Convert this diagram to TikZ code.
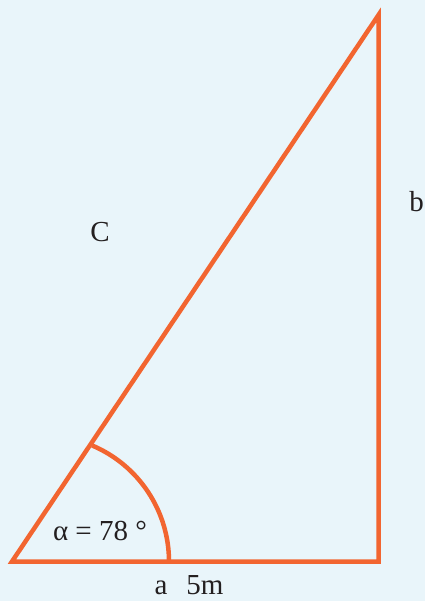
\documentclass[tikz,border=0pt]{standalone}
\usepackage{fontspec}
\setmainfont{Liberation Serif}
\definecolor{bgblue}{HTML}{E9F5FA}
\definecolor{sideorange}{HTML}{F26530}
\definecolor{labelgray}{HTML}{231F20}
\tikzset{
  side/.style={draw=sideorange, line width=4.5pt, line join=miter},
  lbl/.style={text=labelgray, font=\fontsize{29}{34}\selectfont, inner sep=0pt}
}
\begin{document}
\begin{tikzpicture}[x=1pt,y=-1pt]
    \fill[bgblue] (0,0) rectangle (425,601);
    \useasboundingbox (0,0) rectangle (425,601);

    \coordinate (A) at (12,561.5);
    \coordinate (B) at (378.5,561.5);
    \coordinate (T) at (378.5,15);
    \coordinate (O) at (43,561.5);
    \coordinate (arcstart) at (169,561.5);

    \node[lbl, anchor=base] (hyp) at (100,242) {C};
    \node[lbl, anchor=base] (leg) at (416.5,212) {b};
    \node[lbl, anchor=base] (base) at (189,594) {a\hspace{19pt}5m};
    \node[lbl, anchor=base] (angle) at (100,540) {α = 78 °};

    \draw[side] (A) -- (B) -- (T) -- cycle;
    \draw[side, line cap=butt] (arcstart) arc[start angle=0, end angle=-67, radius=126];
\end{tikzpicture}
\end{document}
